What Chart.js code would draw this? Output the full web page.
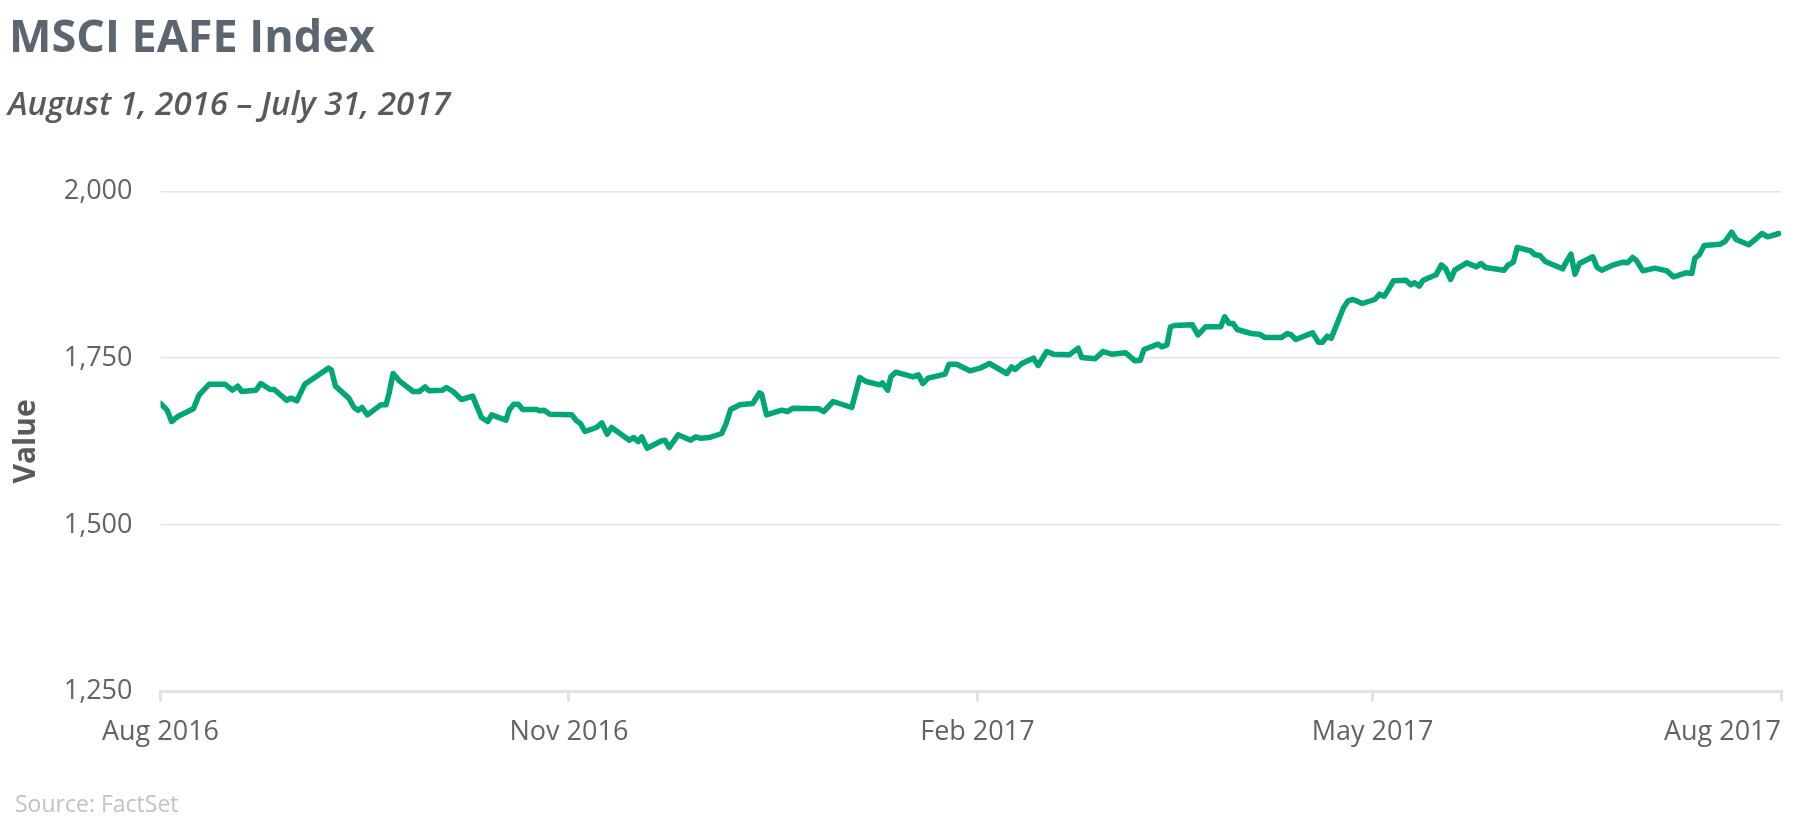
<!DOCTYPE html>
<html>
<head>
<meta charset="utf-8">
<script src="https://cdn.jsdelivr.net/npm/chart.js@4.4.1/dist/chart.umd.min.js"></script>
<style>
  html, body { margin: 0; padding: 0; background: #ffffff; }
  body { width: 1798px; height: 826px; position: relative; overflow: hidden; font-family: "Open Sans", sans-serif; }
  #title { position: absolute; left: 9px; top: 11.8px; font-size: 45px; line-height: 45px; font-weight: 700; color: #5b6670; white-space: nowrap; }
  #subtitle { position: absolute; left: 8px; top: 85.6px; font-size: 33px; line-height: 33px; font-weight: 600; font-style: italic; color: #5a5a5a; white-space: nowrap; }
  #source { position: absolute; left: 15px; top: 792px; font-size: 23px; line-height: 23px; color: #c2c2c2; white-space: nowrap; }
  #chart { position: absolute; left: 0; top: 0; }
</style>
</head>
<body>
<canvas id="chart" width="1798" height="826"></canvas>
<div id="title">MSCI EAFE Index</div>
<div id="subtitle">August 1, 2016 – July 31, 2017</div>
<div id="source">Source: FactSet</div>
<script>
// Days since August 1, 2016
const days = [
  0, 1.5, 2.5, 4, 7.4, 8.7, 11, 14.5, 16.2, 17.4, 18.3, 21.5, 22.6, 24.7, 25.6, 28.4, 29.5, 30.7, 32.5,
  37.8, 38.5, 39.4, 42.4, 43.6, 44.5, 45.4, 46.6, 49.6, 50.8, 51.5, 52.4, 53.8, 56.9, 58.3, 59.6, 60.5,
  63.5, 64.4, 65.9, 67.8, 70.3, 72.3, 73.7, 74.6, 77.8, 78.6, 79.6, 80.6, 81.6, 84.7, 85.5, 86.4, 87.7,
  92.6, 93.7, 94.6, 95.6, 98.2, 99.4, 100.6, 101.6, 105.6, 106.5, 107.6, 108.4, 109.6, 112.9, 113.6,
  114.6, 116.6, 119.4, 120.6, 121.5, 123.7, 126.4, 127.4, 128.4, 130.5, 133.4, 134.9, 135.4, 136.5,
  139.9, 141.2, 142.5, 148.2, 149.4, 151.5, 155.7, 157.5, 158.9, 162.0, 162.6, 163.8, 164.5, 165.6,
  169.5, 170.7, 171.7, 172.9, 176.7, 177.6, 179.3, 182.3,
  184.6, 186.7, 190.6, 191.7, 192.5, 194, 196.6, 197.7, 199.6, 201.1, 204.7, 206.7, 207.5, 210.5,
  212.3, 214.2, 217.4, 219.5, 220.7, 221.5, 224.7, 225.5, 226.7, 227.5, 228.4, 232.4, 233.7, 235.4,
  238.8, 239.7, 240.7, 241.6, 242.5, 245.7, 247.5, 248.8, 252.5, 253.8, 254.7, 255.7, 259.5, 260.8,
  261.7, 262.8, 263.7, 266.4, 267.5, 268.6, 270.7, 273.5,
  274.6, 275.6, 276.5, 277.7, 280.5, 281.6, 282.5, 283.5, 284.4, 287.3, 288.5, 289.5, 290.6, 291.5,
  294.2, 296.4, 297.4, 298.5, 302.6, 303.6, 304.7, 305.6, 308.6, 309.6, 310.7, 311.9, 315.8, 316.6,
  317.7, 318.6, 319.6, 322.6, 323.6, 324.6, 327.3, 329.4, 330.4, 331.6, 332.5, 333.9, 336.6, 339.3,
  340.8, 343.6, 344.9, 345.6, 346.6, 347.7, 351.3, 352.4, 353.9, 354.9, 357.7, 359.2, 360.7, 362, 364.5
];
// MSCI EAFE index level
const values = [
  1682, 1672, 1655, 1663, 1674, 1695, 1711, 1711, 1702, 1708, 1700, 1702, 1712, 1703, 1703, 1687, 1690, 1686, 1711,
  1735, 1732, 1708, 1690, 1676, 1672, 1676, 1665, 1680, 1680, 1698, 1727, 1716, 1700, 1700, 1707, 1701,
  1702, 1706, 1700, 1688, 1693, 1661, 1655, 1665, 1657, 1673, 1681, 1681, 1673, 1673, 1671, 1672, 1666,
  1665, 1656, 1652, 1640, 1646, 1653, 1636, 1646, 1627, 1631, 1625, 1632, 1615, 1626, 1627,
  1616, 1635, 1627, 1632, 1630, 1631, 1637, 1652, 1673, 1680, 1682, 1698, 1696, 1665,
  1672, 1670, 1675, 1674, 1670, 1685, 1676, 1721, 1715, 1710, 1713, 1702, 1722, 1729,
  1722, 1725, 1712, 1720, 1726, 1741, 1741, 1731,
  1735, 1742, 1727, 1737, 1733, 1742, 1750, 1739, 1760, 1756, 1755, 1765, 1751, 1749,
  1760, 1756, 1758, 1746, 1747, 1763, 1771, 1767, 1770, 1797, 1799, 1800, 1785, 1797,
  1797, 1812, 1802, 1802, 1793, 1787, 1786, 1781, 1781, 1787, 1785, 1778, 1788, 1774,
  1774, 1783, 1780, 1825, 1836, 1838, 1832, 1838,
  1846, 1843, 1852, 1866, 1867, 1860, 1863, 1858, 1867, 1875, 1890, 1884, 1868, 1882,
  1893, 1887, 1892, 1886, 1882, 1890, 1894, 1916, 1911, 1905, 1904, 1895, 1884, 1894,
  1906, 1876, 1892, 1902, 1886, 1882, 1890, 1894, 1893, 1901, 1896, 1881, 1885, 1881,
  1872, 1878, 1877, 1900, 1905, 1919, 1921, 1925, 1939, 1928, 1920, 1928, 1937, 1932, 1937
];
const tickDays = [0, 92, 184, 273, 365];
const tickLabels = ['Aug 2016', 'Nov 2016', 'Feb 2017', 'May 2017', 'Aug 2017'];
const yTicks = [1250, 1500, 1750, 2000];

const points = days.map((d, i) => ({ x: d, y: values[i] }));

const xLabelPlugin = {
  id: 'xLabels',
  afterDraw(chart) {
    const sc = chart.scales.x;
    const ctx = chart.ctx;
    ctx.save();
    ctx.font = '27px "Open Sans"';
    ctx.fillStyle = '#636363';
    ctx.textAlign = 'left';
    ctx.textBaseline = 'alphabetic';
    sc.ticks.forEach((t) => {
      const idx = tickDays.indexOf(t.value);
      const label = tickLabels[idx];
      const w = ctx.measureText(label).width;
      let x = sc.getPixelForValue(t.value) - w / 2;
      x = Math.min(x, chart.chartArea.right - w);
      ctx.fillText(label, x, chart.chartArea.bottom + 48.5);
    });
    ctx.restore();
  }
};

new Chart(document.getElementById('chart'), {
  type: 'line',
  data: {
    datasets: [{
      label: 'MSCI EAFE Index',
      data: points,
      borderColor: '#00a676',
      borderWidth: 5.5,
      pointRadius: 0,
      tension: 0,
      fill: false,
      borderJoinStyle: 'round',
      borderCapStyle: 'round'
    }]
  },
  options: {
    responsive: false,
    animation: false,
    layout: { padding: { left: 8, right: 17, top: 191.5, bottom: 124.5 } },
    plugins: { legend: { display: false }, tooltip: { enabled: false }, title: { display: false } },
    scales: {
      x: {
        type: 'linear',
        min: 0,
        max: 365,
        afterBuildTicks: (scale) => { scale.ticks = tickDays.map(v => ({ value: v })); },
        ticks: { display: false },
        grid: { drawOnChartArea: false, drawTicks: true, tickLength: 10, color: '#e2e2e2', lineWidth: 3 },
        border: { display: true, color: '#e2e2e2', width: 3 }
      },
      y: {
        type: 'linear',
        min: 1250,
        max: 2000,
        afterBuildTicks: (scale) => { scale.ticks = yTicks.map(v => ({ value: v })); },
        afterFit: (scale) => { scale.width = 152.5; },
        ticks: {
          padding: 28,
          color: '#636363',
          font: { family: '"Open Sans"', size: 27 },
          callback: (v) => Number(v).toLocaleString('en-US')
        },
        grid: { drawTicks: false, color: '#e6e6e6', lineWidth: 1.5 },
        border: { display: false },
        title: {
          display: true,
          text: 'Value',
          color: '#5a5a5a',
          padding: { top: 0, bottom: 0 },
          font: { family: '"Open Sans"', size: 30, weight: 'bold' }
        }
      }
    }
  },
  plugins: [xLabelPlugin]
});
</script>
</body>
</html>
